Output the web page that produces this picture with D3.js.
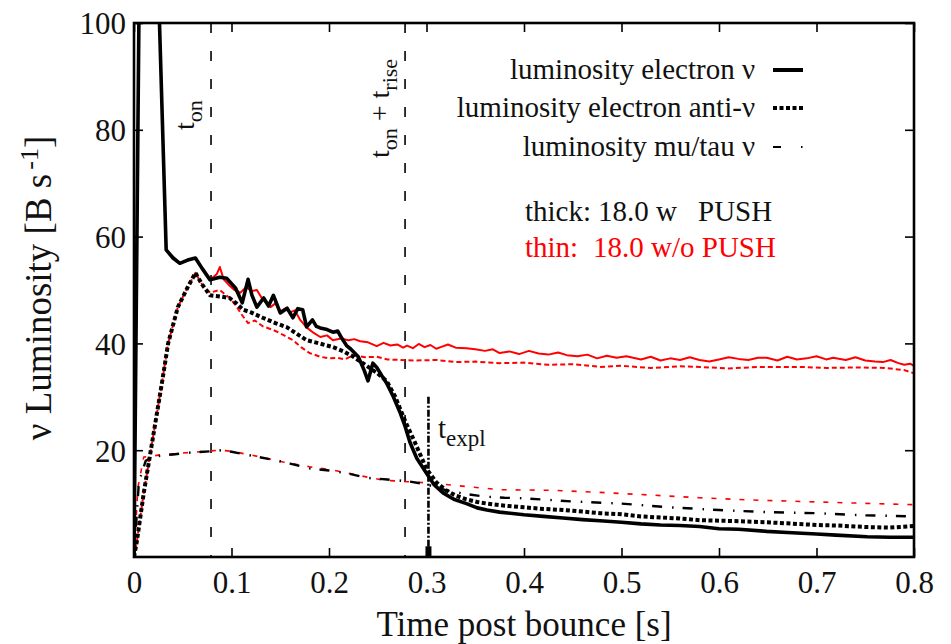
<!DOCTYPE html>
<html><head><meta charset="utf-8">
<script src="https://cdn.jsdelivr.net/npm/d3@7"></script>
<style>body{margin:0;background:#fff}svg{display:block}text{font-family:"Liberation Serif","Times New Roman",serif}</style>
</head><body><svg id="c" width="951" height="644"></svg>
<script>
// ---- data ----
const xTicks = [0, 0.1, 0.2, 0.3, 0.4, 0.5, 0.6, 0.7, 0.8];
const yTicks = [20, 40, 60, 80, 100];
const yLabels = [20, 40, 60, 80, 100];
const tOn = 0.079, tOnRise = 0.278, tExpl = 0.302, tExplTop = 30;

// thick: with PUSH
const pushNuE = [[0,0],[0.01,200],[0.033,57.5],[0.04,56],[0.047,55],[0.055,55.6],[0.063,56],[0.07,54],[0.078,51.9],[0.088,52.4],[0.095,52.2],[0.104,50.4],[0.111,47.6],[0.117,52],[0.121,49],[0.126,46.8],[0.133,48.5],[0.138,47],[0.143,49],[0.15,45.7],[0.157,46.6],[0.163,44.8],[0.168,46.5],[0.173,46.3],[0.177,43.1],[0.183,44.4],[0.187,43.2],[0.191,42.9],[0.198,42.6],[0.204,42.1],[0.209,42.3],[0.213,41],[0.218,39.6],[0.222,39],[0.23,37.5],[0.236,35],[0.24,33],[0.245,36.3],[0.249,35.5],[0.254,34],[0.259,32.6],[0.266,30],[0.273,27],[0.278,24.5],[0.283,21.5],[0.29,18.5],[0.3,15.7],[0.308,13.5],[0.317,12],[0.328,10.8],[0.341,10],[0.352,9.2],[0.362,8.8],[0.375,8.4],[0.4,7.9],[0.42,7.6],[0.44,7.3],[0.46,7.0],[0.478,6.8],[0.5,6.5],[0.52,6.2],[0.54,6.0],[0.56,5.9],[0.58,5.7],[0.6,5.3],[0.62,5.2],[0.649,4.8],[0.67,4.6],[0.7,4.3],[0.72,4.1],[0.752,3.8],[0.775,3.7],[0.8,3.7]];
const pushAntiNuE = [[0,0],[0.003,3],[0.01,12],[0.02,23],[0.029,33],[0.035,40],[0.045,46.8],[0.055,50.5],[0.063,53.2],[0.07,51],[0.078,49],[0.088,48.8],[0.098,48.5],[0.105,47.5],[0.112,46.3],[0.12,45.8],[0.132,44.8],[0.145,43.8],[0.157,43],[0.167,41.8],[0.177,40.6],[0.19,40],[0.204,39.3],[0.215,38.5],[0.225,37.5],[0.237,36],[0.249,34.5],[0.259,33],[0.268,30],[0.278,25.5],[0.288,21.5],[0.3,16.5],[0.31,14],[0.32,12.5],[0.33,11.5],[0.341,10.8],[0.352,10.3],[0.362,10],[0.375,9.7],[0.4,9.3],[0.42,9.0],[0.44,8.8],[0.46,8.5],[0.478,8.2],[0.5,8.0],[0.52,7.6],[0.54,7.4],[0.56,7.2],[0.58,6.9],[0.6,6.8],[0.62,6.7],[0.649,6.5],[0.67,6.3],[0.7,6.0],[0.72,5.9],[0.752,5.6],[0.775,5.5],[0.8,5.8]];
const pushMuTau = [[0,0],[0.005,14],[0.012,18],[0.02,18.8],[0.04,19.2],[0.06,19.6],[0.08,19.8],[0.09,20],[0.1,19.7],[0.12,19],[0.14,18.3],[0.16,17.5],[0.18,16.6],[0.2,16.2],[0.22,15.6],[0.24,14.8],[0.26,14.5],[0.28,14.2],[0.3,13.6],[0.32,12.5],[0.34,11.8],[0.36,11.3],[0.38,11.1],[0.4,11],[0.45,10.4],[0.5,10],[0.55,9.3],[0.6,8.8],[0.65,8.4],[0.7,8.2],[0.75,7.8],[0.8,7.6]];

// thin: without PUSH
const noPushNuE = [[0,0],[0.01,200],[0.033,57.5],[0.047,55],[0.063,56],[0.078,51.9],[0.085,53],[0.088,54.3],[0.092,52],[0.097,51],[0.103,50],[0.109,49.5],[0.115,50.5],[0.121,49.8],[0.126,50],[0.131,48.5],[0.136,47.5],[0.14,46.8],[0.145,47.5],[0.15,46],[0.155,46.5],[0.16,45.8],[0.165,46.2],[0.17,44.5],[0.177,43],[0.184,42],[0.191,41.2],[0.198,41.5],[0.204,40.6],[0.212,40.9],[0.22,40.6],[0.226,40.8],[0.232,40.4],[0.24,40.2],[0.249,39.5],[0.256,40.1],[0.263,39.6],[0.27,39.8],[0.276,39.2],[0.28,39.6],[0.286,39.1],[0.292,39.9],[0.298,39.3],[0.304,39.7],[0.31,39.0],[0.316,39.4],[0.322,39.8],[0.33,39.2],[0.341,39.1],[0.35,38.9],[0.36,38.6],[0.368,38.9],[0.375,38.2],[0.385,38.5],[0.395,38.0],[0.405,38.6],[0.415,38.1],[0.425,37.9],[0.435,38.3],[0.444,37.8],[0.455,37.6],[0.465,37.9],[0.475,37.2],[0.485,37.7],[0.495,37.3],[0.505,37.6],[0.512,37.3],[0.52,37.0],[0.53,37.5],[0.54,36.8],[0.55,37.2],[0.56,36.9],[0.57,37.4],[0.58,36.9],[0.59,36.6],[0.6,37.0],[0.61,37.4],[0.62,37.1],[0.63,36.9],[0.64,37.3],[0.649,37.3],[0.66,36.8],[0.67,37.5],[0.68,37.0],[0.69,37.2],[0.7,37.6],[0.71,37.0],[0.717,37.3],[0.73,36.9],[0.74,37.4],[0.75,36.8],[0.76,36.6],[0.768,36.5],[0.776,36.9],[0.784,36.3],[0.79,36.0],[0.796,36.2],[0.8,35.8]];
const noPushAntiNuE = [[0,0],[0.003,3],[0.01,12],[0.02,23],[0.029,33],[0.035,40],[0.045,46.8],[0.055,50.5],[0.063,53.2],[0.07,51],[0.078,49.5],[0.088,50],[0.098,48.5],[0.105,47],[0.11,45.5],[0.117,43.8],[0.124,44.3],[0.132,43.2],[0.143,42.5],[0.153,41.6],[0.163,40.6],[0.172,39.2],[0.18,38.2],[0.191,37.5],[0.2,37.2],[0.208,37.3],[0.216,37.0],[0.225,37.8],[0.237,37.4],[0.249,37.5],[0.26,37.0],[0.273,36.9],[0.29,36.8],[0.31,36.9],[0.33,36.5],[0.35,36.6],[0.375,36.3],[0.4,36.4],[0.425,36.0],[0.45,36.1],[0.478,35.6],[0.5,35.8],[0.53,35.4],[0.56,35.7],[0.58,35.6],[0.61,35.3],[0.64,35.6],[0.683,35.6],[0.71,35.4],[0.74,35.5],[0.77,35.4],[0.79,35.0],[0.8,34.4]];
const noPushMuTau = [[0,0],[0.004,13],[0.01,18.7],[0.03,19.2],[0.06,19.6],[0.088,20],[0.1,19.8],[0.12,19.1],[0.153,17.8],[0.18,16.9],[0.204,16.3],[0.23,15.3],[0.255,14.4],[0.28,14.1],[0.3,13.9],[0.33,13.4],[0.358,12.9],[0.375,12.6],[0.427,12.5],[0.478,12.1],[0.53,11.6],[0.58,11.1],[0.63,10.7],[0.683,10.4],[0.74,10.1],[0.8,9.8]];

const legendLabels = ["luminosity electron \u03bd", "luminosity electron anti-\u03bd", "luminosity mu/tau \u03bd"];

// ---- layout ----
const W = 951, H = 644;
const m = {l: 134, r: 37, t: 23, b: 87};
const svg = d3.select("#c");
const x = d3.scaleLinear().domain([0, 0.8]).range([m.l, W - m.r]);
const y = d3.scaleLinear().domain([0, 100]).range([H - m.b, m.t]);
const line = d3.line().x(d => x(d[0])).y(d => y(d[1]));

svg.append("clipPath").attr("id", "clip").append("rect")
  .attr("x", x(0)).attr("y", y(100)).attr("width", x(0.8) - x(0)).attr("height", y(0) - y(100));

// vertical markers
const vg = svg.append("g");
[tOn, tOnRise].forEach(t => {
  vg.append("line").attr("x1", x(t)).attr("x2", x(t)).attr("y1", y(100)).attr("y2", y(0))
    .attr("stroke", "#000").attr("stroke-width", 1.6).attr("stroke-dasharray", "10,18");
});
vg.append("line").attr("x1", x(tExpl)).attr("x2", x(tExpl)).attr("y1", y(tExplTop)).attr("y2", y(0))
  .attr("stroke", "#000").attr("stroke-width", 2.6).attr("stroke-dasharray", "7,2,2,2");
vg.append("line").attr("x1", x(tExpl)).attr("x2", x(tExpl)).attr("y1", y(2)).attr("y2", y(0))
  .attr("stroke", "#000").attr("stroke-width", 6);

// series
const sg = svg.append("g").attr("clip-path", "url(#clip)");
const styles = [
  {d: noPushMuTau, c: "#ff0000", w: 1.6, da: "5,9"},
  {d: noPushAntiNuE, c: "#ff0000", w: 2, da: "5,3"},
  {d: noPushNuE, c: "#ff0000", w: 2, da: null},
  {d: pushMuTau, c: "#000", w: 2.4, da: "10,10,1.5,9"},
  {d: pushAntiNuE, c: "#000", w: 4, da: "4,2.5"},
  {d: pushNuE, c: "#000", w: 3.6, da: null}
];
styles.forEach(s => {
  sg.append("path").datum(s.d).attr("d", line).attr("fill", "none")
    .attr("stroke", s.c).attr("stroke-width", s.w)
    .attr("stroke-dasharray", s.da).attr("stroke-linejoin", "round");
});

// axes
const fmt = d => d === 0 ? "0" : d3.format(".1f")(d);
const ax = svg.append("g").attr("transform", `translate(0,${y(0)})`)
  .call(d3.axisBottom(x).tickValues(xTicks).tickFormat(fmt).tickSizeInner(-9).tickSizeOuter(0).tickPadding(14));
const axT = svg.append("g").attr("transform", `translate(0,${y(100)})`)
  .call(d3.axisTop(x).tickValues(xTicks).tickFormat("").tickSizeInner(-9).tickSizeOuter(0));
const ay = svg.append("g").attr("transform", `translate(${x(0)},0)`)
  .call(d3.axisLeft(y).tickValues(yLabels).tickSizeInner(-9).tickSizeOuter(0).tickPadding(8));
const ayR = svg.append("g").attr("transform", `translate(${x(0.8)},0)`)
  .call(d3.axisRight(y).tickValues(yTicks).tickFormat("").tickSizeInner(-9).tickSizeOuter(0));
[ax, axT, ay, ayR].forEach(g => {
  g.select(".domain").remove();
  g.selectAll(".tick line").attr("stroke", "#000").attr("stroke-width", 1.6);
  g.selectAll("text").attr("font-size", 31).attr("fill", "#111").attr("font-family", "Liberation Serif");
});
ay.selectAll("text").attr("dy", "0.35em");
svg.append("rect").attr("x", x(0)).attr("y", y(100)).attr("width", x(0.8) - x(0)).attr("height", y(0) - y(100))
  .attr("fill", "none").attr("stroke", "#000").attr("stroke-width", 2.6);

// axis titles
svg.append("text").attr("x", (x(0) + x(0.8)) / 2).attr("y", 636).attr("text-anchor", "middle")
  .attr("font-size", 35).attr("fill", "#111").text("Time post bounce [s]");
const yt = svg.append("text").attr("transform", `translate(51,288) rotate(-90)`)
  .attr("text-anchor", "middle").attr("font-size", 37).attr("fill", "#111");
yt.append("tspan").text("\u03bd Luminosity [B s");
yt.append("tspan").attr("dy", -13).attr("dx", 4).attr("font-size", 26).text("-1");
yt.append("tspan").attr("dy", 13).text("]");

// marker labels
const l1 = svg.append("text").attr("transform", `translate(194,130) rotate(-90)`).attr("font-size", 28).attr("fill", "#111");
l1.append("tspan").text("t");
l1.append("tspan").attr("dy", 8).attr("font-size", 22).text("on");
const l2 = svg.append("text").attr("transform", `translate(389,158) rotate(-90)`).attr("font-size", 28).attr("fill", "#111");
l2.append("tspan").text("t");
l2.append("tspan").attr("dy", 8).attr("font-size", 22).text("on");
l2.append("tspan").attr("dy", -8).text(" + t");
l2.append("tspan").attr("dy", 8).attr("font-size", 22).text("rise");
const l3 = svg.append("text").attr("x", 438).attr("y", 438).attr("font-size", 29).attr("fill", "#111");
l3.append("tspan").text("t");
l3.append("tspan").attr("dy", 8).attr("font-size", 23).text("expl");

// legend
const lg = svg.append("g");
const ly = [70, 108, 147];
legendLabels.forEach((t, i) => {
  lg.append("text").attr("x", 755).attr("y", ly[i] + 9).attr("text-anchor", "end")
    .attr("font-size", 29).attr("fill", "#111").text(t);
});
lg.append("line").attr("x1", 773).attr("x2", 803).attr("y1", ly[0]).attr("y2", ly[0]).attr("stroke", "#000").attr("stroke-width", 4);
lg.append("line").attr("x1", 773).attr("x2", 803).attr("y1", ly[1]).attr("y2", ly[1]).attr("stroke", "#000").attr("stroke-width", 4).attr("stroke-dasharray", "4,2.5");
lg.append("line").attr("x1", 773).attr("x2", 803).attr("y1", ly[2]).attr("y2", ly[2]).attr("stroke", "#000").attr("stroke-width", 2.2).attr("stroke-dasharray", "8,20,1.5,9");

const n1 = svg.append("text").attr("y", 221).attr("font-size", 29).attr("fill", "#111");
n1.append("tspan").attr("x", 525).text("thick:");
n1.append("tspan").attr("x", 598).text("18.0 w");
n1.append("tspan").attr("x", 698).text("PUSH");
const n2 = svg.append("text").attr("y", 257).attr("font-size", 29).attr("fill", "#ff0000");
n2.append("tspan").attr("x", 525).text("thin:");
n2.append("tspan").attr("x", 593).text("18.0 w/o PUSH");
</script></body></html>
